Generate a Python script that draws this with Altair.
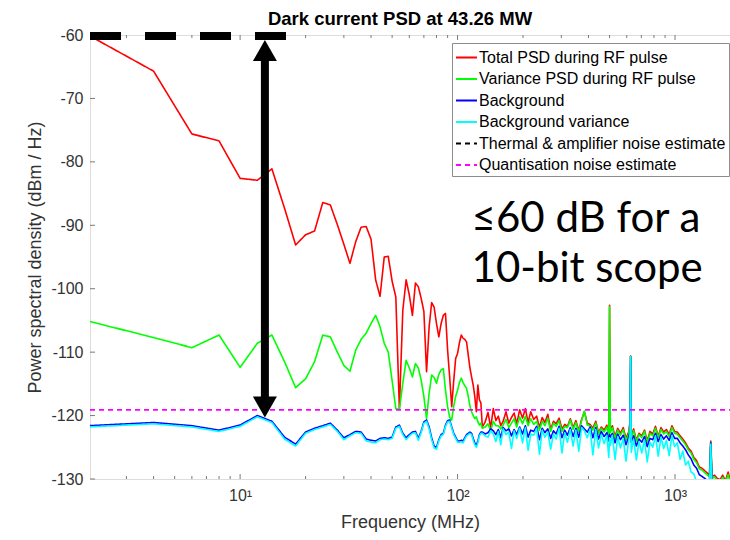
import altair as alt
import pandas as pd

# ---------------- data ----------------
title_text = "Dark current PSD at 43.26 MW"

freq_mhz = [
    2, 4, 6, 8, 10, 12, 14, 16, 18, 20, 22, 24, 26, 28, 30, 32, 34, 36, 38, 40,
    42, 44, 46, 48, 50, 52, 54, 56, 58, 60, 62, 64, 66, 68, 70, 72, 74, 76, 78, 80,
    82, 84, 86, 88, 90, 92, 94, 96, 98, 100, 102, 104, 106, 108, 110, 112, 114, 116, 118, 120,
    122, 124, 126, 128, 130,
    134, 138, 142, 146, 150, 154, 158, 162, 167, 172, 177, 182, 187, 193, 199, 205, 211, 217, 224, 231,
    238, 245, 252, 260, 268, 276, 284, 293, 302, 311, 320, 330, 340, 350, 361, 372, 383, 395, 407, 419,
    432, 445, 458, 472, 486, 496, 500, 504, 515, 530, 545, 561, 578, 595, 612, 621, 625, 629, 645, 664,
    683, 703, 724, 745, 767, 790, 813, 837, 862, 887, 913, 940, 968, 996, 1025, 1055, 1086, 1118, 1151, 1185,
    1220, 1256, 1293, 1331, 1370, 1410, 1440, 1460, 1480, 1520, 1565, 1610, 1657, 1705, 1755, 1790,
]

total_psd = [
    -60.0, -65.7, -75.6, -76.7, -82.6, -82.9, -81.1, -87.3, -93.1, -91.5, -90.9, -86.4, -86.8, -89.9, -93.0, -96.0, -92.6, -90.3, -90.2, -92.2,
    -98.6, -101.2, -95.0, -94.9, -98.8, -101.3, -119.0, -103.4, -98.6, -101.0, -104.2, -99.1, -99.7, -101.5, -103.6, -113.1, -106.0, -102.2, -102.9, -105.5,
    -107.6, -105.5, -104.2, -103.9, -109.7, -114.0, -118.6, -114.5, -111.0, -110.2, -108.5, -107.3, -107.8, -108.0, -108.4, -110.5, -112.5, -113.9, -115.2, -117.0,
    -119.4, -115.2, -117.5, -118.0, -121.8,
    -121.0, -119.5, -121.9, -118.9, -120.8, -120.1, -121.6, -120.9, -119.4, -121.2, -120.3, -119.6, -121.3, -119.1, -120.4, -118.9, -121.1, -119.4, -120.6, -120.1,
    -121.9, -120.3, -121.1, -119.8, -122.2, -120.9, -121.3, -120.4, -122.1, -121.4, -121.7, -120.5, -121.9, -120.8, -122.4, -120.6, -119.4, -121.2, -121.4, -122.0,
    -120.9, -122.7, -121.8, -122.3, -121.5, -123.1, -102.6, -122.4, -121.6, -123.3, -122.0, -122.8, -121.9, -123.6, -122.6, -121.0, -110.6, -123.3, -122.1, -123.9,
    -122.8, -123.2, -122.3, -124.0, -122.5, -122.9, -121.7, -123.3, -121.9, -122.6, -122.2, -123.0, -121.6, -122.5, -122.6, -123.2, -123.7, -124.3, -125.1, -125.6,
    -126.6, -127.1, -128.1, -128.3, -128.7, -129.1, -129.3, -124.0, -129.6, -129.4, -129.9, -130.1, -129.4, -130.3, -128.9, -130.1,
]

variance_psd = [
    -105.1, -107.7, -109.3, -107.3, -112.4, -108.6, -107.3, -111.5, -115.6, -114.2, -111.5, -107.3, -107.6, -110.0, -112.1, -113.0, -109.7, -108.0, -107.0, -105.5,
    -104.2, -106.0, -108.6, -110.0, -114.5, -118.9, -119.0, -114.9, -111.3, -112.5, -113.9, -111.8, -112.5, -114.4, -117.0, -120.5, -116.5, -113.6, -114.0, -114.9,
    -113.5, -112.8, -112.6, -116.0, -118.6, -120.3, -120.7, -118.5, -117.0, -116.0, -114.8, -114.1, -114.8, -115.3, -115.7, -117.0, -118.5, -119.4, -120.0, -120.5,
    -120.2, -121.0, -121.5, -121.2, -122.0,
    -121.8, -121.3, -122.4, -120.9, -121.6, -121.6, -122.1, -121.5, -120.6, -121.9, -121.2, -120.5, -121.8, -120.2, -121.3, -120.1, -121.6, -120.5, -121.4, -120.9,
    -122.3, -120.9, -121.6, -120.4, -122.5, -121.2, -121.7, -120.8, -122.5, -121.7, -121.9, -120.7, -122.2, -121.1, -122.6, -120.8, -119.3, -121.5, -121.6, -122.3,
    -121.2, -122.9, -122.0, -122.6, -121.8, -123.3, -102.8, -122.7, -121.9, -123.6, -122.3, -123.1, -122.2, -123.9, -122.9, -121.4, -110.7, -123.5, -122.4, -124.1,
    -123.0, -123.5, -122.5, -124.2, -122.8, -123.2, -122.0, -123.5, -122.2, -122.9, -122.5, -123.3, -121.9, -122.8, -122.9, -123.5, -124.0, -124.6, -125.4, -125.9,
    -126.9, -127.4, -128.4, -128.6, -129.0, -129.4, -129.6, -124.2, -129.9, -129.7, -130.2, -130.4, -129.7, -130.6, -129.3, -130.4,
]

background = [
    -121.6, -121.1, -121.6, -122.3, -121.5, -120.0, -120.9, -123.4, -124.5, -122.6, -122.0, -121.6, -121.2, -122.3, -123.5, -123.0, -122.5, -122.6, -123.7, -123.9,
    -124.0, -123.6, -123.5, -123.6, -123.4, -121.8, -121.5, -122.8, -123.5, -123.0, -122.6, -122.5, -123.6, -122.5, -121.0, -120.7, -121.8, -123.5, -124.8, -125.0,
    -123.8, -123.0, -122.8, -121.5, -120.8, -120.7, -121.8, -122.8, -123.4, -124.0, -124.0, -123.9, -124.0, -123.5, -123.0, -122.8, -122.6, -122.8, -123.6, -124.3,
    -124.7, -124.0, -123.0, -122.6, -122.6,
    -122.9, -122.7, -122.1, -122.4, -123.0, -122.2, -123.5, -121.9, -122.4, -122.1, -123.2, -122.2, -123.0, -121.8, -122.9, -121.6, -123.4, -122.3, -122.5, -121.7,
    -123.8, -122.0, -122.7, -122.1, -123.6, -122.4, -122.9, -121.7, -123.5, -122.3, -123.1, -121.9, -123.3, -122.0, -123.4, -121.6, -122.1, -122.6, -121.8, -123.5,
    -121.9, -123.7, -122.5, -123.3, -122.7, -124.0, -123.0, -123.4, -122.8, -124.3, -122.9, -123.8, -123.1, -124.6, -123.4, -122.6, -110.7, -124.2, -123.2, -124.8,
    -123.7, -124.2, -123.3, -124.9, -123.6, -123.8, -122.8, -124.1, -123.0, -123.7, -123.2, -123.9, -122.7, -123.6, -123.6, -124.3, -124.8, -125.4, -126.2, -126.8,
    -127.8, -128.3, -129.3, -129.6, -129.9, -130.3, -130.5, -124.3, -130.8, -130.6, -131.0, -131.3, -130.7, -131.5, -130.2, -131.3,
]

background_var = [
    -121.8, -121.3, -121.8, -122.5, -121.7, -120.2, -121.1, -123.7, -124.8, -122.8, -122.2, -121.8, -121.4, -122.5, -123.8, -123.2, -122.7, -122.8, -124.0, -124.2,
    -124.3, -123.8, -123.7, -123.8, -123.6, -122.0, -121.7, -123.0, -123.8, -123.2, -122.8, -122.7, -123.9, -122.7, -121.2, -120.9, -122.1, -123.8, -125.1, -125.3,
    -124.0, -123.2, -123.0, -121.7, -121.0, -120.9, -122.0, -123.0, -123.6, -124.2, -124.2, -124.1, -124.3, -123.7, -123.2, -123.0, -122.8, -123.0, -123.9, -124.6,
    -125.0, -124.3, -123.2, -122.8, -122.8,
    -123.2, -123.4, -122.4, -122.9, -124.1, -122.5, -124.6, -122.1, -123.0, -122.6, -125.2, -122.4, -123.6, -122.0, -124.3, -121.9, -125.5, -122.9, -123.1, -122.0,
    -126.1, -122.3, -123.4, -122.6, -125.3, -122.9, -123.7, -122.0, -125.9, -122.7, -124.2, -122.2, -124.8, -122.3, -125.6, -121.9, -122.4, -123.5, -122.1, -126.2,
    -122.2, -125.1, -123.0, -124.4, -123.1, -126.6, -123.5, -124.7, -123.1, -126.9, -123.3, -125.1, -123.6, -127.2, -124.0, -123.0, -110.7, -125.8, -123.7, -127.0,
    -124.1, -125.9, -123.8, -127.3, -124.2, -125.0, -123.2, -126.4, -123.4, -125.2, -123.9, -126.3, -123.1, -124.9, -124.3, -126.9, -125.6, -127.8, -127.2, -128.9,
    -129.2, -130.4, -130.9, -131.2, -131.1, -131.7, -131.5, -124.5, -131.9, -131.8, -132.1, -132.3, -131.9, -132.6, -131.5, -132.4,
]

series_names = [
    "Total PSD during RF pulse",
    "Variance PSD during RF pulse",
    "Background",
    "Background variance",
    "Thermal & amplifier noise estimate",
    "Quantisation noise estimate",
]
series_colors = ["#ff0000", "#00ff00", "#0000ff", "#00ffff", "#000000", "#ff00ff"]
series_dashes = [[1, 0], [1, 0], [1, 0], [1, 0], [5, 4], [5, 4]]

quantisation_level = -119.1
x_domain = [2.04, 1790]
y_domain = [-130, -60]

# annotation (drawn on top of the MATLAB figure)
limit_bar_freq = [2.04, 16.6]
limit_bar_level = -60.15
arrow_freq = 13.0
arrow_top_tip = -60.8
arrow_bottom_tip = -120.3
arrow_shaft = [-62.5, -118.3]
note_lines = ["\u226460 dB for a", "10-bit scope"]
note_freq = 116
note_levels = [-91.1, -99.0]

# axis ticks
x_major = [10, 100, 1000]
x_minor = [3, 4, 5, 6, 7, 8, 9, 20, 30, 40, 50, 60, 70, 80, 90, 200, 300, 400, 500, 600, 700, 800, 900]
y_ticks = [-130, -120, -110, -100, -90, -80, -70, -60]

# ---------------- chart ----------------
FONT = "Liberation Sans"
AX = "#7a7a7a"
W, H = 640, 444

xs = alt.Scale(type="log", domain=x_domain, nice=False)
ys = alt.Scale(domain=y_domain, nice=False, zero=False)
cs = alt.Scale(domain=series_names, range=series_colors)
ds = alt.Scale(domain=series_names, range=series_dashes)

legend = alt.Legend(
    title=None, orient="none", legendX=362, legendY=8,
    symbolType="stroke", symbolSize=440, symbolStrokeWidth=2,
    labelFont=FONT, labelFontSize=16, labelColor="#000000", labelOffset=1,
    rowPadding=1.5, padding=3, fillColor="#ffffff", strokeColor="#8c8c8c",
    labelLimit=400,
)

x_axis = alt.Axis(
    values=x_major, ticks=False, domain=False, grid=False,
    labelExpr="datum.value == 10 ? '10\u00b9' : datum.value == 100 ? '10\u00b2' : '10\u00b3'",
    labelFont=FONT, labelFontSize=16, labelColor="#333333", labelPadding=8,
    title="Frequency (MHz)", titleFont=FONT, titleFontSize=18, titleFontWeight="normal",
    titleColor="#333333", titlePadding=10,
)
y_axis = alt.Axis(
    values=y_ticks, ticks=False, domain=False, grid=False,
    labelExpr="'' + datum.value",
    labelFont=FONT, labelFontSize=16, labelColor="#333333", labelPadding=7,
    title="Power spectral density (dBm / Hz)", titleFont=FONT, titleFontSize=18,
    titleFontWeight="normal", titleColor="#333333", titlePadding=6,
)


def X(field="freq"):
    return alt.X(f"{field}:Q", scale=xs, axis=x_axis)


def Y(field="psd"):
    return alt.Y(f"{field}:Q", scale=ys, axis=y_axis)


rows = []
for name, vals in zip(series_names[:4], [total_psd, variance_psd, background, background_var]):
    for f, v in zip(freq_mhz, vals):
        rows.append({"freq": f, "psd": v, "series": name})
for f in x_domain:
    rows.append({"freq": f, "psd": quantisation_level, "series": series_names[5]})
df = pd.DataFrame(rows)

layers = []
for name in [series_names[0], series_names[1], series_names[2], series_names[3], series_names[5]]:
    layers.append(
        alt.Chart(df).transform_filter(alt.datum.series == name)
        .mark_line(clip=True, strokeWidth=1.6, strokeJoin="round")
        .encode(
            x=X(), y=Y(),
            color=alt.Color("series:N", scale=cs, legend=legend),
            strokeDash=alt.StrokeDash("series:N", scale=ds, legend=legend),
        )
    )

# inward ticks
tick_major = pd.DataFrame({"freq": x_major})
tick_minor = pd.DataFrame({"freq": x_minor})
tick_y = pd.DataFrame({"psd": y_ticks})
for tdf, ln in [(tick_major, 5), (tick_minor, 3)]:
    layers.append(alt.Chart(tdf).mark_rule(color=AX, strokeWidth=1).encode(
        x=X(), y=alt.value(H), y2=alt.value(H - ln)))
    layers.append(alt.Chart(tdf).mark_rule(color=AX, strokeWidth=1).encode(
        x=X(), y=alt.value(0), y2=alt.value(ln)))
layers.append(alt.Chart(tick_y).mark_rule(color=AX, strokeWidth=1).encode(
    y=Y(), x=alt.value(0), x2=alt.value(5)))

# thick dashed limit bar
bar_df = pd.DataFrame({"freq": limit_bar_freq, "psd": [limit_bar_level] * 2})
layers.append(alt.Chart(bar_df).mark_line(color="#000000", strokeWidth=8, strokeDash=[31, 24],
                                          strokeCap="butt", clip=False).encode(x=X(), y=Y()))

# double arrow
shaft_df = pd.DataFrame({"freq": [arrow_freq], "y1": [arrow_shaft[0]], "y2": [arrow_shaft[1]]})
layers.append(alt.Chart(shaft_df).mark_rule(color="#000000", strokeWidth=8).encode(
    x=X(), y=Y("y1"), y2="y2:Q"))
top_df = pd.DataFrame({"freq": [arrow_freq], "psd": [arrow_top_tip]})
bot_df = pd.DataFrame({"freq": [arrow_freq], "psd": [arrow_bottom_tip]})
layers.append(alt.Chart(top_df).mark_point(shape="M0,0 L-1,1.75 L1,1.75 Z", filled=True, size=576,
                                           color="#000000", opacity=1, strokeWidth=0).encode(x=X(), y=Y()))
layers.append(alt.Chart(bot_df).mark_point(shape="M0,0 L-1,-1.75 L1,-1.75 Z", filled=True, size=576,
                                           color="#000000", opacity=1, strokeWidth=0).encode(x=X(), y=Y()))

# annotation text
note_df = pd.DataFrame({"freq": [note_freq] * 2, "psd": note_levels, "txt": note_lines})
layers.append(alt.Chart(note_df).mark_text(align="left", baseline="alphabetic", font="Lato",
                                           fontSize=42, color="#000000").encode(
    x=X(), y=Y(), text="txt:N"))

# figure title, placed above the axes
title_df = pd.DataFrame({"txt": [title_text]})
layers.append(alt.Chart(title_df).mark_text(align="center", baseline="alphabetic", font=FONT,
                                            fontSize=18.5, fontWeight="bold", color="#000000").encode(
    x=alt.value(W / 2 - 10), y=alt.value(-10), text="txt:N"))

chart = alt.layer(*layers).properties(
    width=W, height=H,
    autosize=alt.AutoSizeParams(type="none"),
    padding={"left": 90, "top": 35, "right": 0, "bottom": 61},
).configure_view(stroke=AX, strokeWidth=1).configure(background="#ffffff")

chart.save("out.html", embed_options={"renderer": "svg", "actions": False})
